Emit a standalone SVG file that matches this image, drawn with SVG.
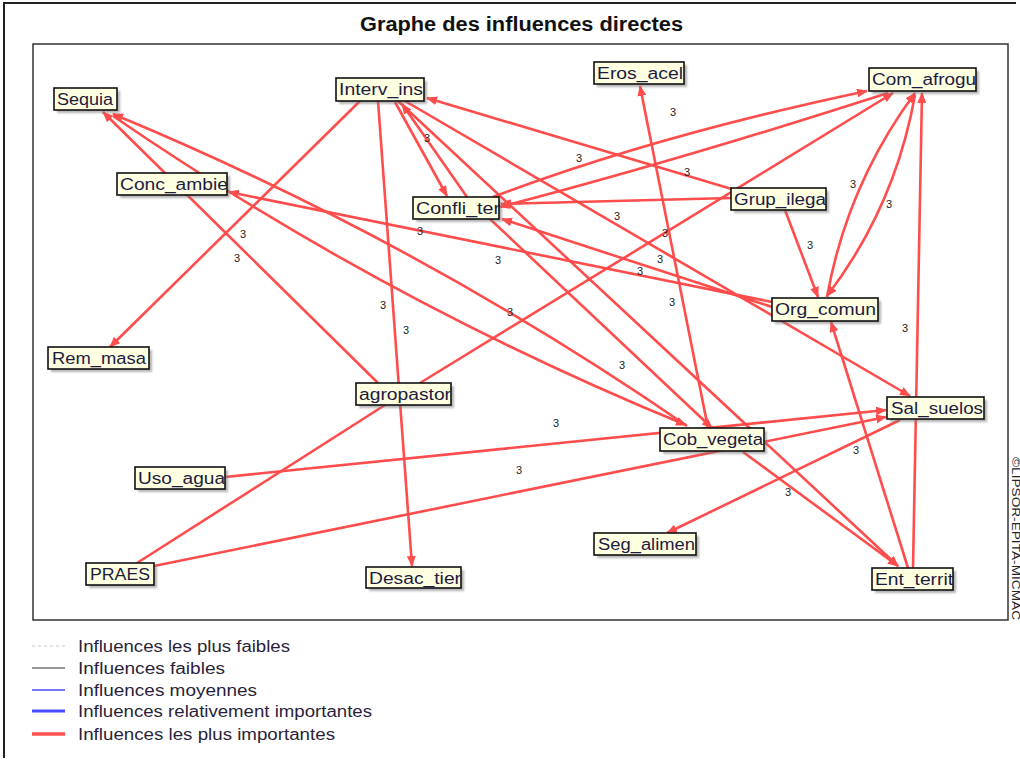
<svg xmlns="http://www.w3.org/2000/svg" width="1020" height="759" viewBox="0 0 1020 759">
<style>
.t{font-family:"Liberation Sans",Arial,sans-serif}
.title{font-size:20px;font-weight:bold;fill:#111}
.box{fill:#ffffe1;stroke:#111;stroke-width:1.6}
.sh{fill:#777;opacity:.55;filter:url(#blur)}
.nt{font-size:16px;fill:#1c1c40}
.e{fill:none;stroke:#ff4c4c;stroke-width:2.6;marker-end:url(#ah)}
.n{fill:none;stroke:#ff4c4c;stroke-width:2.6}
.lb{font-size:11px;fill:#222}
.lg{font-size:16px;fill:#2a1f3a}
</style>
<defs>
<filter id="blur" x="-10%" y="-30%" width="120%" height="160%"><feGaussianBlur stdDeviation="1"/></filter>
<marker id="ah" markerWidth="11" markerHeight="9" refX="10" refY="4.5" orient="auto" markerUnits="userSpaceOnUse"><path d="M0,0 L11,4.5 L0,9 z" fill="#ff4c4c"/></marker>
</defs>
<rect width="1020" height="759" fill="#fff"/>
<path d="M4,758 V3 H1016" fill="none" stroke="#222" stroke-width="2"/>
<text class="t title" x="360" y="31" textLength="323" lengthAdjust="spacingAndGlyphs">Graphe des influences directes</text>
<rect x="33" y="44" width="975" height="576" fill="none" stroke="#333" stroke-width="1.5"/>
<text class="t" font-size="10" fill="#222" transform="translate(1012,457) rotate(90)" textLength="163" lengthAdjust="spacingAndGlyphs">©LIPSOR-EPITA-MICMAC</text>

<g id="connectors">
<path class="e" d="M360,101 L110,347"/>
<path class="e" d="M378,383 L103,112"/>
<path class="e" d="M687,426 Q417,240 113,114"/>
<path class="e" d="M113,116 Q383,301 686,425"/>
<path class="e" d="M772,302 L229,192"/>
<path class="e" d="M772,307 L502,219"/>
<path class="e" d="M731,198 L501,204"/>
<path class="e" d="M735,190 L427,98"/>
<path class="e" d="M395,102 L447,196"/>
<path class="e" d="M467,197 L402,104"/>
<path class="e" d="M493,197 Q654,136 867,91"/>
<path class="e" d="M888,93 Q680,160 500,207"/>
<path class="e" d="M420,383 L893,93"/>
<path class="e" d="M827,297 Q847,185 915,93"/>
<path class="e" d="M915,95 Q895,207 827,296"/>
<path class="e" d="M785,210 L818,297"/>
<path class="e" d="M913,568 L922,93"/>
<path class="e" d="M908,568 L831,322"/>
<path class="e" d="M900,420 L667,533"/>
<path class="e" d="M743,452 L898,566"/>
<path class="e" d="M405,101 L910,396"/>
<path class="e" d="M708,428 L640,86"/>
<path class="e" d="M378,101 L412,566"/>
<path class="n" d="M385,405 L137,563"/>
<path class="e" d="M225,477 L886,410"/>
<path class="e" d="M154,566 L886,417"/>
<path class="e" d="M398,101 L898,566"/>
<path class="e" d="M490,219 L712,428"/>
</g>

<g id="labels" class="t lb">
<text x="240" y="238">3</text><text x="234" y="262">3</text><text x="424" y="142">3</text>
<text x="576" y="162">3</text><text x="684" y="176">3</text><text x="670" y="116">3</text>
<text x="850" y="188">3</text><text x="886" y="208">3</text><text x="807" y="249">3</text>
<text x="614" y="220">3</text><text x="662" y="237">3</text><text x="417" y="235">3</text>
<text x="495" y="264">3</text><text x="657" y="263">3</text><text x="637" y="275">3</text>
<text x="669" y="306">3</text><text x="380" y="309">3</text><text x="403" y="334">3</text>
<text x="507" y="316">3</text><text x="619" y="369">3</text><text x="902" y="332">3</text>
<text x="553" y="427">3</text><text x="516" y="474">3</text><text x="853" y="454">3</text>
<text x="785" y="496">3</text>
</g>

<g id="n-sequia"><rect class="sh" x="57" y="91" width="63" height="22"/><rect class="box" x="54" y="88" width="63" height="22"/><text class="t nt" x="57" y="105" textLength="56" lengthAdjust="spacingAndGlyphs">Sequia</text></g>
<g id="n-interv"><rect class="sh" x="339" y="81" width="88" height="23"/><rect class="box" x="336" y="78" width="88" height="23"/><text class="t nt" x="339" y="95" textLength="84" lengthAdjust="spacingAndGlyphs">Interv_ins</text></g>
<g id="n-eros"><rect class="sh" x="597" y="65" width="90" height="22"/><rect class="box" x="594" y="62" width="90" height="22"/><text class="t nt" x="597" y="79" textLength="86" lengthAdjust="spacingAndGlyphs">Eros_acel</text></g>
<g id="n-comafro"><rect class="sh" x="872" y="71" width="107" height="23"/><rect class="box" x="869" y="68" width="107" height="23"/><text class="t nt" x="872" y="85" textLength="104" lengthAdjust="spacingAndGlyphs">Com_afrogu</text></g>
<g id="n-conc"><rect class="sh" x="120" y="176" width="110" height="22"/><rect class="box" x="117" y="173" width="110" height="22"/><text class="t nt" x="120" y="190" textLength="108" lengthAdjust="spacingAndGlyphs">Conc_ambie</text></g>
<g id="n-confli"><rect class="sh" x="416" y="200" width="86" height="22"/><rect class="box" x="413" y="197" width="86" height="22"/><text class="t nt" x="416" y="214" textLength="84" lengthAdjust="spacingAndGlyphs">Confli_ter</text></g>
<g id="n-grup"><rect class="sh" x="734" y="191" width="95" height="22"/><rect class="box" x="731" y="188" width="95" height="22"/><text class="t nt" x="734" y="205" textLength="92" lengthAdjust="spacingAndGlyphs">Grup_ilega</text></g>
<g id="n-org"><rect class="sh" x="775" y="301" width="106" height="23"/><rect class="box" x="772" y="298" width="106" height="23"/><text class="t nt" x="775" y="315" textLength="101" lengthAdjust="spacingAndGlyphs">Org_comun</text></g>
<g id="n-rem"><rect class="sh" x="51" y="350" width="101" height="22"/><rect class="box" x="48" y="347" width="101" height="22"/><text class="t nt" x="52" y="364" textLength="94" lengthAdjust="spacingAndGlyphs">Rem_masa</text></g>
<g id="n-agro"><rect class="sh" x="359" y="386" width="95" height="22"/><rect class="box" x="356" y="383" width="95" height="22"/><text class="t nt" x="359" y="400" textLength="92" lengthAdjust="spacingAndGlyphs">agropastor</text></g>
<g id="n-sal"><rect class="sh" x="890" y="400" width="97" height="22"/><rect class="box" x="887" y="397" width="97" height="22"/><text class="t nt" x="891" y="414" textLength="92" lengthAdjust="spacingAndGlyphs">Sal_suelos</text></g>
<g id="n-cob"><rect class="sh" x="663" y="431" width="104" height="23"/><rect class="box" x="660" y="428" width="104" height="23"/><text class="t nt" x="663" y="445" textLength="100" lengthAdjust="spacingAndGlyphs">Cob_vegeta</text></g>
<g id="n-uso"><rect class="sh" x="138" y="470" width="90" height="22"/><rect class="box" x="135" y="467" width="90" height="22"/><text class="t nt" x="138" y="484" textLength="87" lengthAdjust="spacingAndGlyphs">Uso_agua</text></g>
<g id="n-praes"><rect class="sh" x="89" y="566" width="68" height="22"/><rect class="box" x="86" y="563" width="68" height="22"/><text class="t nt" x="90" y="580" textLength="60" lengthAdjust="spacingAndGlyphs">PRAES</text></g>
<g id="n-seg"><rect class="sh" x="597" y="536" width="102" height="22"/><rect class="box" x="594" y="533" width="102" height="22"/><text class="t nt" x="598" y="550" textLength="97" lengthAdjust="spacingAndGlyphs">Seg_alimen</text></g>
<g id="n-desac"><rect class="sh" x="369" y="570" width="95" height="21"/><rect class="box" x="366" y="567" width="95" height="21"/><text class="t nt" x="369" y="584" textLength="92" lengthAdjust="spacingAndGlyphs">Desac_tier</text></g>
<g id="n-ent"><rect class="sh" x="875" y="571" width="81" height="22"/><rect class="box" x="872" y="568" width="81" height="22"/><text class="t nt" x="875" y="585" textLength="78" lengthAdjust="spacingAndGlyphs">Ent_territ</text></g>

<g id="legend" class="t lg">
<line x1="32" y1="646" x2="65" y2="646" stroke="#c8c8c8" stroke-width="1" stroke-dasharray="3,3"/>
<line x1="32" y1="668" x2="65" y2="668" stroke="#777" stroke-width="1.5"/>
<line x1="32" y1="690" x2="65" y2="690" stroke="#4a4aff" stroke-width="1.5"/>
<line x1="32" y1="711" x2="65" y2="711" stroke="#4a4aff" stroke-width="3"/>
<line x1="32" y1="734" x2="65" y2="734" stroke="#ff5050" stroke-width="3.5"/>
<text x="78" y="652" textLength="212" lengthAdjust="spacingAndGlyphs">Influences les plus faibles</text>
<text x="78" y="674" textLength="147" lengthAdjust="spacingAndGlyphs">Influences faibles</text>
<text x="78" y="696" textLength="179" lengthAdjust="spacingAndGlyphs">Influences moyennes</text>
<text x="78" y="717" textLength="294" lengthAdjust="spacingAndGlyphs">Influences relativement importantes</text>
<text x="78" y="740" textLength="257" lengthAdjust="spacingAndGlyphs">Influences les plus importantes</text>
</g>
</svg>
